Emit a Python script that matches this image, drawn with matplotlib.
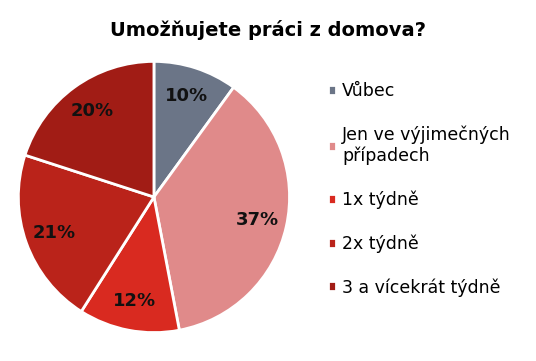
import matplotlib
matplotlib.use("Agg")
import matplotlib.pyplot as plt

CATEGORIES = ["Vůbec", "Jen ve výjimečných\npřípadech", "1x týdně", "2x týdně", "3 a vícekrát týdně"]
SHARES = [10, 37, 12, 21, 20]
COLORS = ["#6B7587", "#E08A8A", "#D92A20", "#BA231A", "#A11C15"]

plt.rcParams["font.family"] = ["DejaVu Sans"]

fig = plt.figure(figsize=(5.36, 3.61), dpi=100)
ax = fig.add_axes([0.0317, 0.0748, 0.511, 0.759])

wedges, texts = ax.pie(
    SHARES,
    colors=COLORS,
    startangle=90,
    counterclock=False,
    labels=[f"{v}%" for v in SHARES],
    labeldistance=0.78,
    wedgeprops=dict(edgecolor="white", linewidth=2),
    textprops=dict(fontsize=13, fontweight="bold", color="#111111", ha="center", va="center"),
)
ax.set_xlim(-1.01, 1.01)
ax.set_ylim(-1.01, 1.01)
ax.set_aspect("equal")

fig.suptitle("Umožňujete práci z domova?", x=0.5, y=0.945, fontsize=14, fontweight="bold")

fig.legend(
    wedges, CATEGORIES,
    loc="upper left", bbox_to_anchor=(0.582, 0.815),
    frameon=False, fontsize=12.5,
    handlelength=0.5, handleheight=0.5, handletextpad=0.35,
    labelspacing=1.45,
)

fig.savefig("out.png", dpi=100)
